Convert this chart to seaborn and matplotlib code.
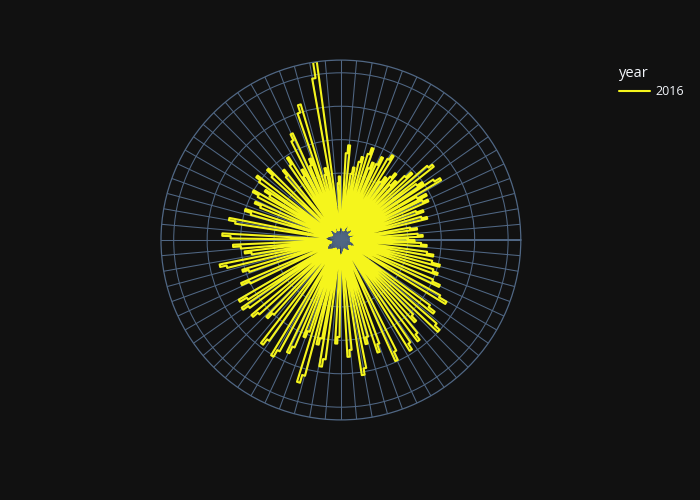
import numpy as np
import pandas as pd
import seaborn as sns
import matplotlib.pyplot as plt

# direction of each spike (deg), radius of its outgoing and returning edge
spike_theta = [0, 3.5, 9, 15, 20, 25, 28.5, 32, 35.5, 39.5,
               44, 47.5, 51, 55, 59, 64, 68, 71.5, 76, 80.5,
               85.6, 92, 98.9, 103, 107.7, 111.5, 115.5, 119.5, 123.4, 130,
               136.6, 143.5, 147.5, 151.5, 157, 163.2, 170, 178, 183.7, 188,
               192.6, 198, 204.5, 211.5, 215.5, 221.2, 227, 233.4, 240, 245.5,
               250, 254, 258, 261.5, 268, 274.4, 280, 284.5, 289.2, 295.4,
               303, 308.3, 313, 317.7, 322.6, 329.7, 335.6, 341.2, 346, 351,
               356.7]
spike_out = [2.2, 2.45, 2.3, 2.66, 2.61, 2.86, 2.89, 3.49, 2.98, 3.54,
             2.91, 2.4, 2.57, 2.3, 2.96, 2.76, 2.5, 2.9, 2.56, 2.2,
             2.84, 1.9, 5.38, 2.2, 4.23, 2.6, 3.5, 2.4, 2.93, 2.7,
             3.04, 3.15, 2.7, 3.0, 2.8, 3.0, 3.4, 3.55, 3.23, 2.9,
             3.7, 3.08, 3.25, 3.54, 3.59, 3.49, 3.2, 3.9, 4.03, 3.72,
             3.1, 4.44, 3.2, 3.83, 3.1, 3.5, 4.09, 3.2, 3.54, 3.97,
             3.9, 3.8, 3.3, 3.99, 3.53, 3.66, 3.25, 3.06, 3.05, 2.8,
             2.57]
spike_back = [2.0, 2.3, 2.1, 2.5, 2.4, 2.7, 2.6, 3.3, 2.8, 3.4,
              2.7, 2.2, 2.4, 2.1, 2.8, 2.5, 2.3, 2.7, 2.4, 2.0,
              2.6, 1.7, 4.9, 2.0, 4.0, 2.4, 3.3, 2.2, 2.7, 2.5,
              2.8, 3.0, 2.5, 2.8, 2.6, 2.8, 3.2, 3.3, 3.0, 2.7,
              3.5, 2.9, 3.0, 3.3, 3.4, 3.3, 3.0, 3.7, 3.8, 3.5,
              2.9, 4.2, 3.0, 3.6, 2.9, 3.3, 3.9, 3.0, 3.3, 3.7,
              3.7, 3.6, 3.1, 3.8, 3.3, 3.4, 3.0, 2.9, 2.8, 2.6,
              2.4]
# radius the line falls back to near the centre between spikes
spike_low = [0.35, 0.4, 0.3, 0.45, 0.5, 0.4, 0.35, 0.3, 0.4, 0.45,
             0.5, 0.55, 0.4, 0.35, 0.45, 0.5, 0.6, 0.4, 0.3, 0.35,
             0.4, 0.45, 0.35, 0.3, 0.4, 0.5, 0.45, 0.35, 0.3, 0.4,
             0.45, 0.4, 0.35, 0.3, 0.35, 0.4, 0.45, 0.5, 0.4, 0.35,
             0.3, 0.4, 0.45, 0.5, 0.55, 0.45, 0.4, 0.35, 0.3, 0.4,
             0.45, 0.35, 0.3, 0.4, 0.5, 0.45, 0.4, 0.35, 0.3, 0.35,
             0.4, 0.45, 0.4, 0.35, 0.3, 0.4, 0.5, 0.45, 0.4, 0.35,
             0.3]
year = "2016"

BG = "#111111"
GRID = "#506784"
LINE = "#f5f51c"

theta, r = [], []
for a, po, pb, lo in zip(spike_theta, spike_out, spike_back, spike_low):
    theta += [a - 1.2, a - 1.2, a, a, a + 1.2, a + 1.2]
    r += [lo, po, po, pb, pb, lo]
df = pd.DataFrame({"theta": np.deg2rad(theta), "r": r, "year": year})

sns.set_style("dark")
plt.rcParams["font.family"] = ["Open Sans", "DejaVu Sans"]

fig = plt.figure(figsize=(7, 5), dpi=100, facecolor=BG)
ax = fig.add_axes([0.23, 0.16, 0.514, 0.72], projection="polar")
ax.set_facecolor(BG)

sns.lineplot(data=df, x="theta", y="r", hue="year", sort=False,
             estimator=None, palette=[LINE], linewidth=1.5, ax=ax, legend=True)

rmax = max(spike_out)
ax.set_ylim(0, rmax)
ax.set_thetagrids(range(0, 360, 5), labels=[])
ax.set_rgrids([1, 2, 3, 4, 5], labels=[])
ax.grid(True, color=GRID, linewidth=0.75)
ax.set_axisbelow(True)
ax.spines["polar"].set_color(GRID)
ax.spines["polar"].set_linewidth(0.9)
ax.axvline(0, color=GRID, linewidth=1.4, zorder=1)
ax.set_xlabel("")
ax.set_ylabel("")

ax.get_legend().remove()
handles, labels = ax.get_legend_handles_labels()
leg = fig.legend(handles, labels, title="year", loc="upper left",
                 bbox_to_anchor=(0.868, 0.89), frameon=False,
                 fontsize=9, title_fontsize=10.5, handlelength=2.5,
                 handletextpad=0.45, labelspacing=0.3, alignment="left")
leg.get_title().set_color("#f2f5fa")
for t in leg.get_texts():
    t.set_color("#f2f5fa")

fig.savefig("out.png", dpi=100, facecolor=BG)
